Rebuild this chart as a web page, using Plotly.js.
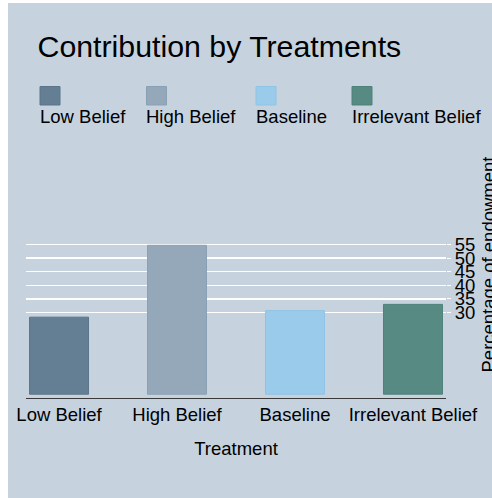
<!DOCTYPE html>
<html>
<head>
<meta charset="utf-8">
<script src="https://cdn.plot.ly/plotly-3.0.1.min.js"></script>
<style>
  html, body { margin: 0; padding: 0; background: #ffffff; width: 492px; height: 498px; overflow: hidden; }
  #chart { position: absolute; left: 8px; top: 3px; width: 484px; height: 495px; }
</style>
</head>
<body>
<div id="chart"></div>
<script>
// ---- data ----
var treatments = ["Low Belief", "High Belief", "Baseline", "Irrelevant Belief"];
var contribution = [28.3, 54.7, 30.7, 33.0];
var barColors = ["#647f93", "#95a8b9", "#9acbeb", "#578a83"];
var barEdges = ["#5b7489", "#8aa0b4", "#8fc4e6", "#4e8179"];
var yTicks = [30, 35, 40, 45, 50, 55];
var xTitle = "Treatment";
var yTitle = "Percentage of endowment";

// ---- layout geometry (pixels inside the chart div) ----
var W = 484, H = 495;
var M = {l: 18, r: 46, t: 128, b: 100};
var PW = W - M.l - M.r, PH = H - M.t - M.b;
function px2x(px) { return (px - 8 - M.l) / PW; }
function px2y(py) { return (H - M.b - (py - 3)) / PH; }

var FONT = "Liberation Sans, Arial, sans-serif";
var BG = "#c6d3df";

var legendX = [40, 146.5, 256, 352];
var shapes = [], annotations = [];
treatments.forEach(function (t, i) {
  shapes.push({
    type: "rect", xref: "paper", yref: "paper",
    x0: px2x(legendX[i]), x1: px2x(legendX[i] + 20),
    y0: px2y(105), y1: px2y(86.5),
    fillcolor: barColors[i], line: {color: barEdges[i], width: 1}
  });
  annotations.push({
    xref: "paper", yref: "paper",
    x: px2x(legendX[i] - 2.5), y: px2y(116),
    xanchor: "left", yanchor: "middle",
    text: t, showarrow: false,
    font: {family: FONT, size: 18.5, color: "#000000"}
  });
});
// right-side y axis title (rotated), placed where the reference draws it
annotations.push({
  xref: "paper", yref: "paper",
  x: px2x(488), y: 0.5,
  xanchor: "center", yanchor: "middle",
  textangle: -90,
  text: yTitle, showarrow: false,
  font: {family: FONT, size: 18.5, color: "#000000"}
});

var trace = {
  type: "bar",
  x: treatments,
  y: contribution,
  width: 0.5,
  marker: {color: barColors, line: {color: barEdges, width: 1}},
  hoverinfo: "x+y",
  showlegend: false
};

var layout = {
  width: W, height: H,
  margin: M,
  paper_bgcolor: BG,
  plot_bgcolor: BG,
  font: {family: FONT, size: 18.5, color: "#000000"},
  showlegend: false,
  title: {
    text: "Contribution by Treatments",
    xref: "container", yref: "container",
    x: (37.5 - 8) / W, xanchor: "left",
    y: 1 - (46 - 3) / H, yanchor: "middle",
    font: {family: FONT, size: 30.3, color: "#000000"}
  },
  xaxis: {
    type: "category",
    range: [-0.28, 3.28],
    showgrid: false,
    zeroline: false,
    showline: true, linecolor: "#3a3a3a", linewidth: 1,
    ticks: "",
    tickfont: {family: FONT, size: 18.5, color: "#000000"},
    title: {text: xTitle, font: {family: FONT, size: 18.5, color: "#000000"}, standoff: 17},
    automargin: false,
    fixedrange: true
  },
  yaxis: {
    side: "right",
    range: [-1.4, 96.7],
    tickvals: yTicks,
    ticktext: yTicks.map(String),
    showgrid: true, gridcolor: "#ffffff", gridwidth: 1.5,
    zeroline: false,
    showline: false,
    ticks: "outside", ticklen: 4, tickcolor: "#ffffff", tickwidth: 1,
    tickfont: {family: FONT, size: 18.5, color: "#000000"},
    automargin: false,
    fixedrange: true
  },
  shapes: shapes,
  annotations: annotations,
  bargap: 0.5
};

Plotly.newPlot("chart", [trace], layout, {displayModeBar: false, staticPlot: true});
</script>
</body>
</html>
